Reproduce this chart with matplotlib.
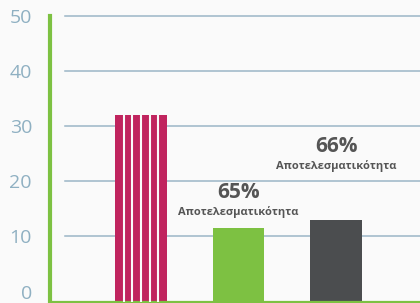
import matplotlib
matplotlib.use('Agg')
import matplotlib.pyplot as plt

# data
categories = ['A', 'B', 'C']
values = [32, 11.6, 12.9]
bar_colors = ['#c0245e', '#7dc142', '#4b4d4f']
yticks = [0, 10, 20, 30, 40, 50]
pct_labels = ['65%', '66%']
sub_label = 'Αποτελεσματικότητα'

plt.rcParams['font.family'] = ['Open Sans', 'DejaVu Sans']

bg = '#fafafa'
fig = plt.figure(figsize=(4.2, 3.03), dpi=100, facecolor=bg)
ax = fig.add_axes([50/420, 1-302/303, 370/420, 302/303])
ax.set_facecolor(bg)

ymin, ymax = -1.9, 52.9
ax.set_ylim(ymin, ymax)
ax.set_xlim(-0.934, 2.86)

# grid lines (not touching the left axis line)
for t in yticks[1:]:
    ax.axhline(t, xmin=0.04, xmax=1, color='#9bb6c6', lw=1.1, zorder=1)

xs = list(range(len(categories)))
bars = ax.bar(xs, [v - ymin for v in values], bottom=ymin, width=0.53,
              color=bar_colors, zorder=2)

# white stripes on the first bar
b = bars[0]
n = 6
for k in range(1, n):
    xx = b.get_x() + k * b.get_width() / n
    ax.plot([xx, xx], [ymin, values[0]], color=bg, lw=1.5, zorder=3,
            solid_capstyle='butt')

# labels above the green and dark bars
txt = '#555555'
ax.text(xs[1], 18.0, pct_labels[0], ha='center', va='center',
        fontsize=15, fontweight='bold', color=txt)
ax.text(xs[1], 14.5, sub_label, ha='center', va='center',
        fontsize=8, fontweight='bold', color=txt)
ax.text(xs[2], 26.3, pct_labels[1], ha='center', va='center',
        fontsize=15, fontweight='bold', color=txt)
ax.text(xs[2], 22.7, sub_label, ha='center', va='center',
        fontsize=8, fontweight='bold', color=txt)

for s in ['top', 'right']:
    ax.spines[s].set_visible(False)
ax.spines['left'].set_color('#7dc142')
ax.spines['left'].set_linewidth(3)
ax.spines['left'].set_bounds(ymin, 50)
ax.spines['bottom'].set_color('#7dc142')
ax.spines['bottom'].set_linewidth(1.6)

ax.set_xticks([])
ax.set_yticks(yticks)
ax.set_yticklabels([str(t) for t in yticks])
ax.tick_params(axis='y', length=0, pad=13, labelsize=14, labelcolor='#8fb0c2')

fig.savefig('out.png', dpi=100, facecolor=bg)
